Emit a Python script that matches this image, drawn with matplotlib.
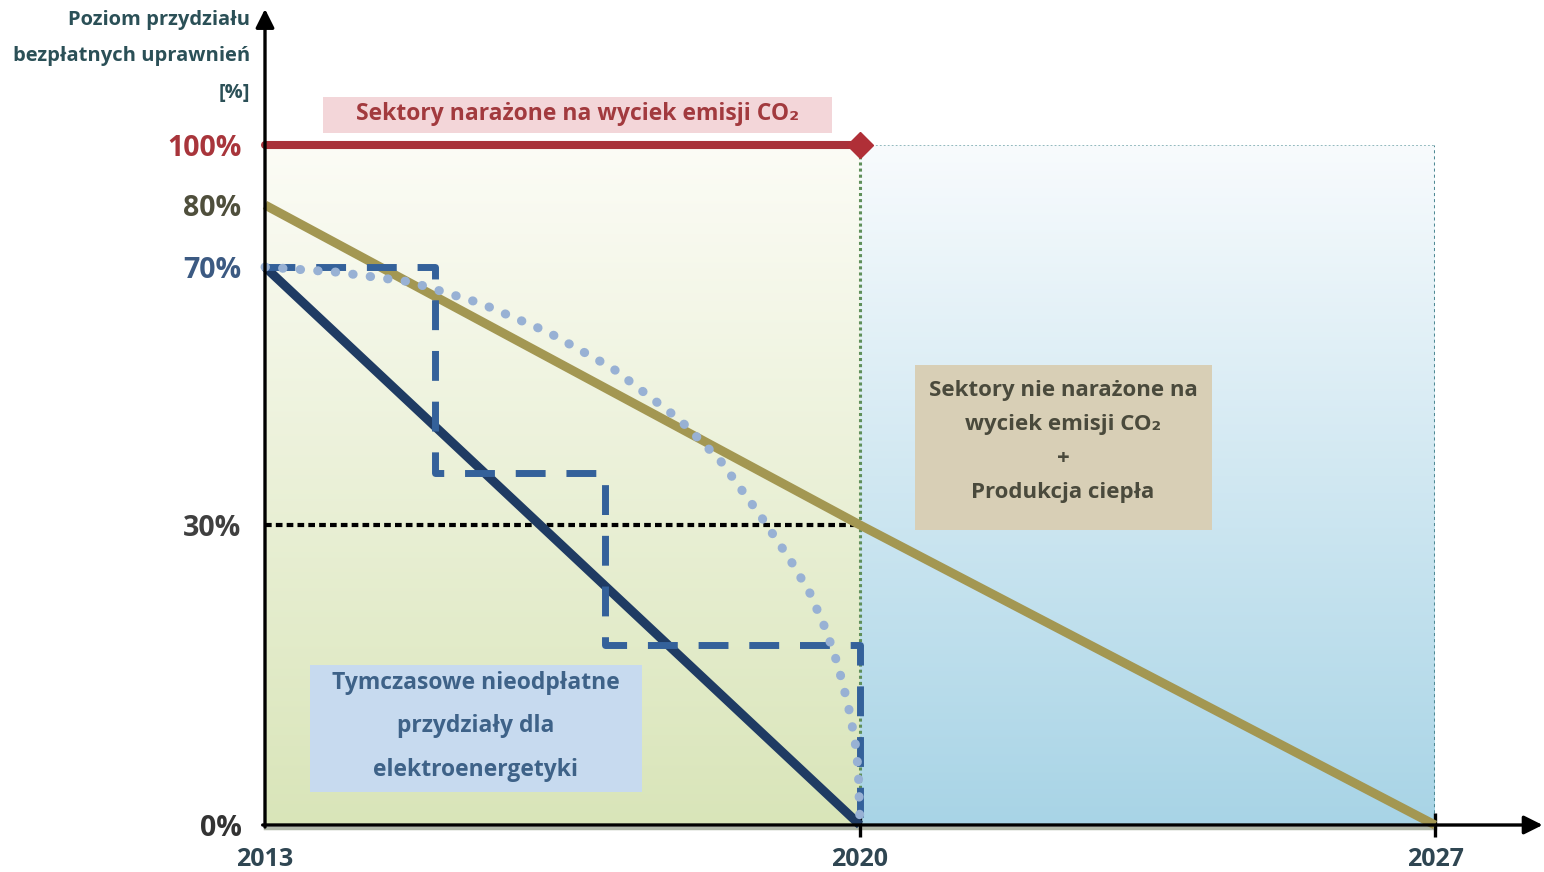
import numpy as np
import matplotlib
matplotlib.use("Agg")
import matplotlib.pyplot as plt
from matplotlib.patches import Rectangle

plt.rcParams['font.family'] = ['Open Sans', 'DejaVu Sans']

# ---------------- data ----------------
x_ticks = [2013, 2020, 2027]
x_labels = ['2013', '2020', '2027']
y_ticks = [0, 30, 70, 80, 100]
y_labels = ['0%', '30%', '70%', '80%', '100%']
y_label_colors = ['#333333', '#3f3f3f', '#3c5a82', '#4f4f3c', '#a8353b']

exposed_years = [2013, 2020]
exposed_vals = [100, 100]

nonexposed_years = [2013, 2020, 2027]
nonexposed_vals = [80, 30, 0]

power_years = [2013, 2020]
power_vals = [70, 0]

step_years = [2013, 2015, 2015, 2017, 2017, 2020, 2020]
step_vals = [70, 70, 38, 38, 18, 18, 0]

curve_years = [2013.0, 2013.85, 2014.71, 2015.53, 2016.33, 2017.09, 2017.88,
               2018.35, 2018.82, 2019.18, 2019.41, 2019.60, 2019.74, 2019.86,
               2019.94, 2019.98, 2020.0]
curve_vals = [70, 69.2, 67.7, 64.4, 59.9, 54.3, 46.3, 40.1, 31.6, 26.5, 23.2,
              19.5, 16.0, 12.0, 8.5, 5.5, 0]

threshold_years = [2013, 2020]
threshold_vals = [30, 30]

# ---------------- schematic (piecewise) scales ----------------
X_ANCH = [2013, 2020, 2027]
X_DISP = [0, 595, 1170]
Y_ANCH = [0, 30, 70, 80, 100]
Y_DISP = [0, 300, 558, 620, 680]


def pw(v, a, b):
    v = np.asarray(v, dtype=float)
    a = np.asarray(a, float); b = np.asarray(b, float)
    out = np.interp(v, a, b)
    lo_s = (b[1] - b[0]) / (a[1] - a[0])
    hi_s = (b[-1] - b[-2]) / (a[-1] - a[-2])
    out = np.where(v < a[0], b[0] + (v - a[0]) * lo_s, out)
    out = np.where(v > a[-1], b[-1] + (v - a[-1]) * hi_s, out)
    return out


fig = plt.figure(figsize=(15.44, 8.72), dpi=100)
W, H = 1544, 872
ax = fig.add_axes([265 / W, 47 / H, 1170 / W, 680 / H])
ax.set_xscale('function', functions=(lambda v: pw(v, X_ANCH, X_DISP),
                                     lambda v: pw(v, X_DISP, X_ANCH)))
ax.set_yscale('function', functions=(lambda v: pw(v, Y_ANCH, Y_DISP),
                                     lambda v: pw(v, Y_DISP, Y_ANCH)))
ax.set_xlim(2013, 2027)
ax.set_ylim(0, 100)
ax.set_autoscale_on(False)

# background gradients (regions 2013-2020 and 2020-2027)
f20 = ax.transAxes.inverted().transform(ax.transData.transform([[2020, 0]]))[0][0]


def grad(bottom, top, n=256):
    b = np.array(matplotlib.colors.to_rgb(bottom))
    t = np.array(matplotlib.colors.to_rgb(top))
    s = np.linspace(0, 1, n)[:, None]
    return (b + (t - b) * s)[:, None, :]


ax.imshow(grad('#d9e5b9', '#fcfcf6'), extent=[0, f20, 0, 1], transform=ax.transAxes,
          aspect='auto', origin='lower', zorder=0, interpolation='bilinear')
ax.imshow(grad('#a8d4e6', '#f8fbfd'), extent=[f20, 1, 0, 1], transform=ax.transAxes,
          aspect='auto', origin='lower', zorder=0, interpolation='bilinear')
ax.set_xlim(2013, 2027)
ax.set_ylim(0, 100)

# region borders
ax.plot([2020, 2027], [100, 100], color='#8ab4b8', lw=1.3, ls=(0, (1, 1.2)), zorder=1)
ax.plot([2027, 2027], [0, 100], color='#4f8a94', lw=2.2, ls=(0, (1, 1)), zorder=1)
ax.plot([2020, 2020], [0, 100], color='#5f8f5a', lw=2.2, ls=(0, (1, 1)), zorder=1)
# soft shadow under the time axis
ax.plot([2013, 2027], [0, 0], color='#7d8a70', lw=2.5, alpha=0.6, zorder=1, clip_on=False,
        transform=ax.transData + matplotlib.transforms.ScaledTranslation(0, -3 / 100, fig.dpi_scale_trans))

# text boxes (axes fraction)
def box(x0, x1, y0, y1, fc):
    ax.add_patch(Rectangle((x0, y0), x1 - x0, y1 - y0, transform=ax.transAxes,
                           facecolor=fc, edgecolor='none', zorder=2, clip_on=False))

box(0.0496, 0.4846, 1.0176, 1.0706, '#f3d6d9')
ax.text(0.2675, 1.045, 'Sektory narażone na wyciek emisji CO₂', transform=ax.transAxes,
        ha='center', va='center', fontsize=16.5, color='#a23a3e', fontweight='bold', zorder=3)

box(0.5556, 0.8094, 0.4338, 0.6765, '#d8cfb6')
ax.text(0.682, 0.564, 'Sektory nie narażone na\nwyciek emisji CO₂\n+\nProdukcja ciepła',
        transform=ax.transAxes, ha='center', va='center', fontsize=16, color='#4a4a3c',
        fontweight='bold', linespacing=1.8, zorder=3)

box(0.0385, 0.3222, 0.0485, 0.2353, '#c7daef')
ax.text(0.180, 0.145, 'Tymczasowe nieodpłatne\nprzydziały dla\nelektroenergetyki',
        transform=ax.transAxes, ha='center', va='center', fontsize=16.5, color='#3e6288',
        fontweight='bold', linespacing=2.1, zorder=3)

# threshold 30% dotted
ax.plot(threshold_years, threshold_vals, color='black', lw=3, ls=(0, (1.6, 1.0)), zorder=4,
        clip_on=False)

# series
ax.plot(nonexposed_years, nonexposed_vals, color='#a39752', lw=6.5, zorder=5,
        solid_capstyle='butt', clip_on=False)
ax.plot(power_years, power_vals, color='#1f3b63', lw=6.5, zorder=6,
        solid_capstyle='butt', clip_on=False)
ax.plot(step_years, step_vals, color='#34619a', lw=5, ls=(0, (4.3, 3.0)), zorder=7,
        clip_on=False)
ax.plot(curve_years, curve_vals, color='#98b1d4', lw=6.5, ls=(0, (0.05, 1.9)),
        dash_capstyle='round', zorder=8, clip_on=False)
ax.plot(exposed_years, exposed_vals, color='#a8323a', lw=5.8, zorder=9,
        solid_capstyle='round', clip_on=False)
ax.plot(exposed_years[-1:], exposed_vals[-1:], marker='D', ms=13, color='#b02f37',
        zorder=10, clip_on=False)

# axes lines with arrows
for s in ax.spines.values():
    s.set_visible(False)
ax.annotate('', xy=(0, 1.2), xytext=(0, -0.003), xycoords='axes fraction',
            arrowprops=dict(arrowstyle='-|>', lw=2.4, color='black', mutation_scale=28,
                            shrinkA=0, shrinkB=0), zorder=11)
ax.annotate('', xy=(1.092, 0), xytext=(-0.002, 0), xycoords='axes fraction',
            arrowprops=dict(arrowstyle='-|>', lw=2.4, color='black', mutation_scale=28,
                            shrinkA=0, shrinkB=0), zorder=11)

# ticks
ax.set_xticks(x_ticks)
ax.set_xticklabels(x_labels, fontsize=18, fontweight='bold', color='#2f4652')
ax.tick_params(axis='x', direction='inout', length=17, width=2.4, color='black', pad=7)
ax.xaxis.get_major_ticks()[0].tick1line.set_visible(False)
ax.set_yticks(y_ticks)
ax.set_yticklabels(y_labels, fontsize=20.5, fontweight='bold')
ax.tick_params(axis='y', length=0, pad=17)
for lab, c in zip(ax.get_yticklabels(), y_label_colors):
    lab.set_color(c)
ax.minorticks_off()

# y-axis title
fig.text(250 / W, 1 - 10 / H, 'Poziom przydziału\nbezpłatnych uprawnień\n[%]', ha='right', va='top',
         fontsize=14.5, fontweight='bold', color='#2b5057', linespacing=2.1)

fig.savefig('out.png', dpi=100)
